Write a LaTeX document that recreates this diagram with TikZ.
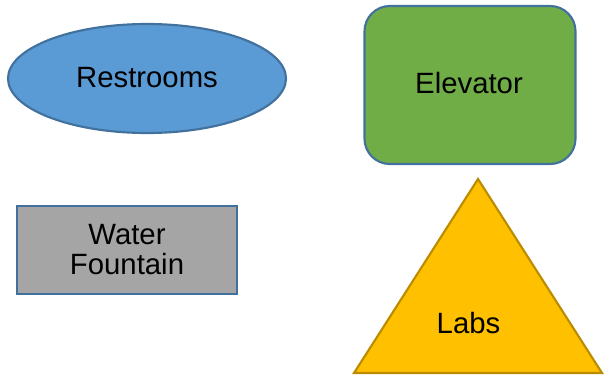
\documentclass[tikz,border=0pt]{standalone}
\usepackage{fontspec}
\setmainfont{Liberation Sans}
\usetikzlibrary{shapes.geometric}
\definecolor{bluefill}{HTML}{5B9BD5}
\definecolor{blueline}{HTML}{41719C}
\definecolor{greenfill}{HTML}{70AD47}
\definecolor{grayfill}{HTML}{A5A5A5}
\definecolor{yellowfill}{HTML}{FFC000}
\definecolor{yellowline}{HTML}{BC8C00}
\tikzset{
  shapeline/.style={line width=1.6pt},
  lbl/.style={font=\fontsize{22pt}{22.5pt}\selectfont, text=black, inner sep=0pt, align=center},
}
\begin{document}
\begin{tikzpicture}[x=0.75pt,y=-0.75pt]
\useasboundingbox (0,0) rectangle (605,381);
% Restrooms ellipse
\node[ellipse, shapeline, draw=blueline, fill=bluefill, minimum width=278*0.75pt, minimum height=109*0.75pt, inner sep=0pt] (rest) at (147,78.5) {};
\node[lbl] (restlbl) at (147,78) {Restrooms};
% Elevator rounded rectangle
\node[rectangle, rounded corners=19pt, shapeline, draw=blueline, fill=greenfill, minimum width=211*0.75pt, minimum height=158*0.75pt, inner sep=0pt] (elev) at (470,85) {};
\node[lbl] (elevlbl) at (469,83) {Elevator};
% Water Fountain rectangle
\node[rectangle, shapeline, draw=blueline, fill=grayfill, minimum width=220*0.75pt, minimum height=88*0.75pt, inner sep=0pt] (water) at (127,250) {};
\node[lbl] (waterlbl) at (127,250) {Water\\Fountain};
% Labs triangle
\coordinate (tA) at (478,179);
\coordinate (tB) at (602,373);
\coordinate (tC) at (354,373);
\draw[shapeline, draw=yellowline, fill=yellowfill, line join=miter] (tA) -- (tB) -- (tC) -- cycle;
\node[lbl] (labs) at (468.5,323) {Labs};
\end{tikzpicture}
\end{document}
